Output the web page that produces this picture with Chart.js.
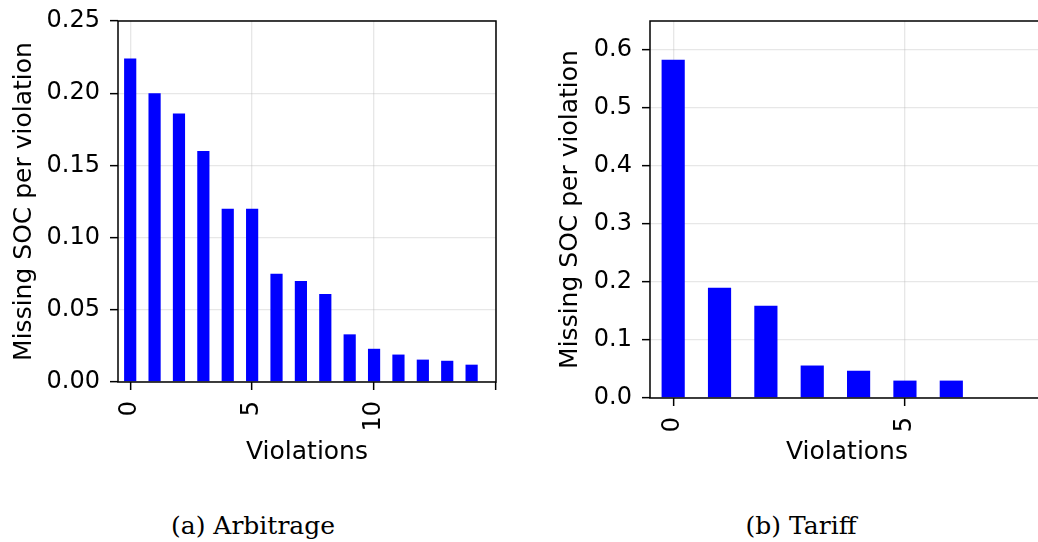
<!DOCTYPE html>
<html>
<head>
<meta charset="utf-8">
<title>Missing SOC per violation</title>
<script src="https://cdn.jsdelivr.net/npm/chart.js@4.4.0/dist/chart.umd.min.js"></script>
<style>
  html, body { margin: 0; padding: 0; background: #fff; }
  body { width: 1038px; height: 542px; overflow: hidden; position: relative; }
  canvas { position: absolute; top: 0; }
  #arbitrageChart { left: 0; }
  #tariffChart { left: 546px; }
  .caption {
    position: absolute;
    top: 513px;
    font: 25px/25px "DejaVu Serif", serif;
    color: #000;
    white-space: nowrap;
    transform: translateX(-50%);
  }
</style>
</head>
<body>
<canvas id="arbitrageChart" width="520" height="480"></canvas>
<canvas id="tariffChart" width="514" height="480"></canvas>
<div class="caption" style="left:253px">(a) Arbitrage</div>
<div class="caption" style="left:801px">(b) Tariff</div>

<script>
// (a) Arbitrage
const arbitrageViolations = [0, 1, 2, 3, 4, 5, 6, 7, 8, 9, 10, 11, 12, 13, 14];
const arbitrageSoc = [0.224, 0.200, 0.186, 0.160, 0.120, 0.120, 0.075, 0.070, 0.061, 0.033, 0.023, 0.019, 0.0155, 0.0147, 0.012];
const arbitrageXTicks = [0, 5, 10, 15];
const arbitrageXLabels = ["0", "5", "10", ""];
const arbitrageYTicks = [0, 0.05, 0.10, 0.15, 0.20, 0.25];

// (b) Tariff
const tariffViolations = [0, 1, 2, 3, 4, 5, 6];
const tariffSoc = [0.583, 0.190, 0.159, 0.056, 0.047, 0.030, 0.030];
const tariffXTicks = [0, 5];
const tariffXLabels = ["0", "5"];
const tariffYTicks = [0, 0.1, 0.2, 0.3, 0.4, 0.5, 0.6];

const tickFont = { family: "'DejaVu Sans', sans-serif", size: 24 };
const titleFont = { family: "'DejaVu Sans', sans-serif", size: 25, lineHeight: 1.2 };
const gridStyle = {
    color: "rgba(176, 176, 176, 0.3)",
    lineWidth: 1.3,
    tickColor: "#000",
    tickLength: 8,
    tickWidth: 1.5,
    offset: false,
};

// box around the plot area, like matplotlib spines
const framePlugin = {
    id: "frame",
    afterDraw(chart) {
        const { ctx, chartArea } = chart;
        ctx.save();
        ctx.strokeStyle = "#000";
        ctx.lineWidth = 1.5;
        ctx.strokeRect(chartArea.left, chartArea.top,
            chartArea.right - chartArea.left, chartArea.bottom - chartArea.top);
        ctx.restore();
    },
};

function makeChart(canvasId, violations, soc, cfg) {
    const ctx = document.getElementById(canvasId).getContext("2d");
    return new Chart(ctx, {
        type: "bar",
        data: {
            datasets: [
                {
                    data: violations.map((v, i) => ({ x: v, y: soc[i] })),
                    backgroundColor: "#0000ff",
                    borderWidth: 0,
                    barPercentage: 0.5,
                    categoryPercentage: 1.0,
                },
            ],
        },
        options: {
            responsive: false,
            animation: false,
            layout: { padding: { top: 21, right: cfg.padRight, left: 0, bottom: 0 } },
            plugins: {
                legend: { display: false },
                tooltip: { enabled: false },
            },
            scales: {
                x: {
                    type: "linear",
                    min: cfg.xMin,
                    max: cfg.xMax,
                    offset: false,
                    z: 1,
                    grid: gridStyle,
                    border: { display: false },
                    afterBuildTicks: (scale) => {
                        scale.ticks = cfg.xTicks.map((v) => ({ value: v }));
                    },
                    // fixed axis box; labels may overhang the plot edges
                    afterFit: (scale) => {
                        scale.height = cfg.xAxisHeight;
                        scale.paddingLeft = 0;
                        scale.paddingRight = 0;
                    },
                    ticks: {
                        font: tickFont,
                        color: "#000",
                        padding: 11,
                        minRotation: 90,
                        maxRotation: 90,
                        autoSkip: false,
                        callback: (value) => cfg.xLabels[cfg.xTicks.indexOf(value)],
                    },
                    title: {
                        display: true,
                        text: "Violations",
                        font: titleFont,
                        color: "#000",
                        padding: { top: 0, bottom: 13 },
                    },
                },
                y: {
                    min: 0,
                    max: cfg.yMax,
                    z: 1,
                    grid: gridStyle,
                    border: { display: false },
                    afterBuildTicks: (scale) => {
                        scale.ticks = cfg.yTicks.map((v) => ({ value: v }));
                    },
                    afterFit: (scale) => {
                        scale.width = cfg.yAxisWidth;
                        scale.paddingTop = 0;
                        scale.paddingBottom = 0;
                    },
                    ticks: {
                        font: tickFont,
                        color: "#000",
                        padding: 10,
                        callback: (value) => value.toFixed(cfg.yDecimals),
                    },
                    title: {
                        display: true,
                        text: "Missing SOC per violation",
                        font: titleFont,
                        color: "#000",
                        padding: { top: 9, bottom: 0 },
                    },
                },
            },
        },
        plugins: [framePlugin],
    });
}

makeChart("arbitrageChart", arbitrageViolations, arbitrageSoc, {
    xMin: -0.5,
    xMax: 15,
    xTicks: arbitrageXTicks,
    xLabels: arbitrageXLabels,
    yMax: 0.25,
    yTicks: arbitrageYTicks,
    yDecimals: 2,
    yAxisWidth: 118,
    xAxisHeight: 98,
    padRight: 24,
});

makeChart("tariffChart", tariffViolations, tariffSoc, {
    xMin: -0.5,
    xMax: 8,
    xTicks: tariffXTicks,
    xLabels: tariffXLabels,
    yMax: 0.65,
    yTicks: tariffYTicks,
    yDecimals: 1,
    yAxisWidth: 104,
    xAxisHeight: 82,
    padRight: 16,
});
</script>
</body>
</html>
